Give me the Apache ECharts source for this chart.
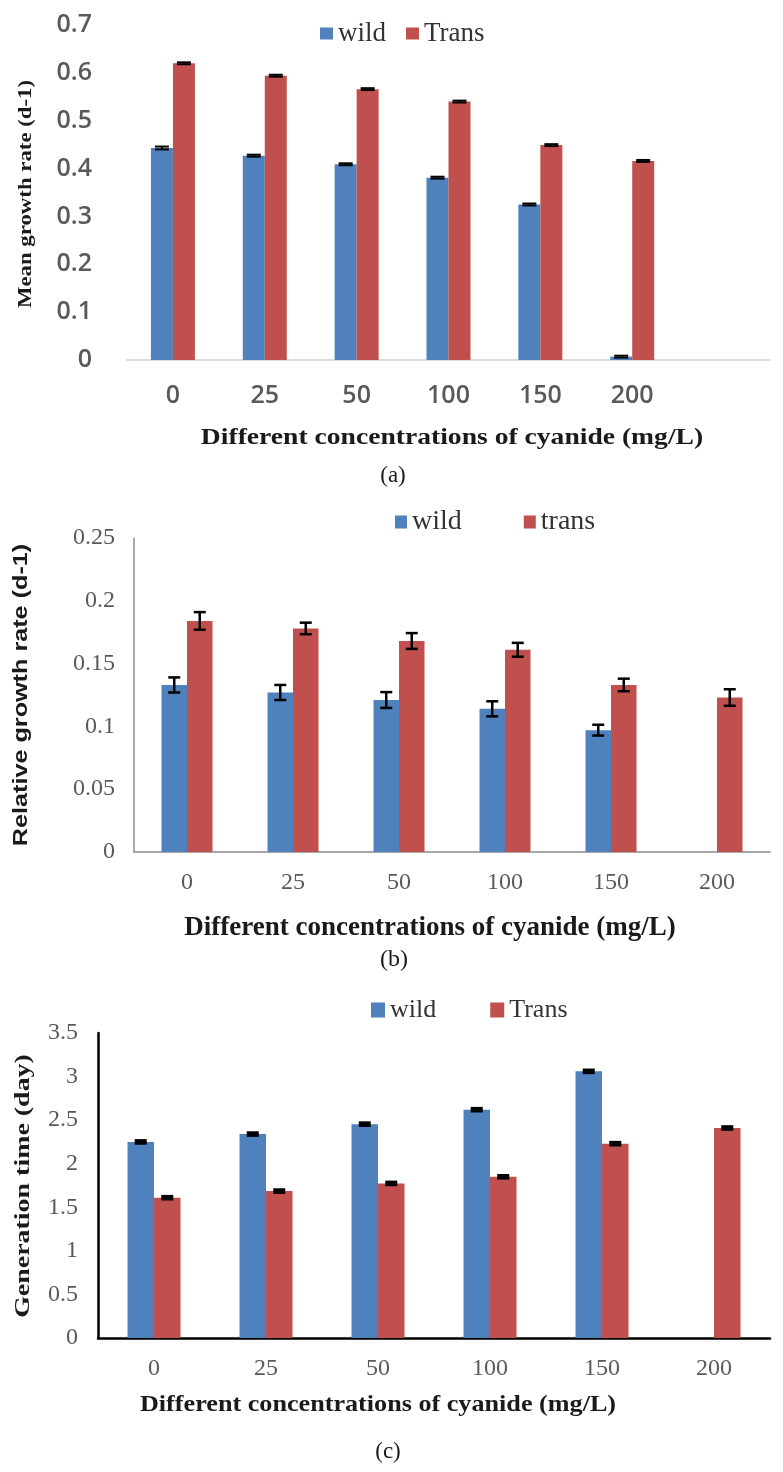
<!DOCTYPE html>
<html>
<head>
<meta charset="utf-8">
<script src="https://cdn.jsdelivr.net/npm/echarts@6/dist/echarts.min.js"></script>
<style>
html,body{margin:0;padding:0;background:#fff;}
#chart{width:783px;height:1472px;}
</style>
</head>
<body>
<div id="chart"></div>
<script>
// ---------- data ----------
const categories = ['0', '25', '50', '100', '150', '200'];
const categoriesA = ['0', '25', '50', '100', '150', '200', ''];

// (a) Mean growth rate (d-1)
const aWild = [0.443, 0.427, 0.409, 0.381, 0.325, 0.007];
const aTrans = [0.620, 0.594, 0.566, 0.540, 0.449, 0.416];
const aWildErr = [0.003, 0.002, 0.002, 0.002, 0.002, 0.002];
const aTransErr = [0.002, 0.002, 0.002, 0.002, 0.002, 0.002];

// (b) Relative growth rate (d-1)
const bWild = [0.133, 0.127, 0.121, 0.114, 0.097, null];
const bTrans = [0.184, 0.178, 0.168, 0.161, 0.133, 0.123];
const bWildErr = [0.006, 0.006, 0.0063, 0.006, 0.0043, null];
const bTransErr = [0.007, 0.0046, 0.0063, 0.0055, 0.005, 0.0066];

// (c) Generation time (day)
const cWild = [2.25, 2.34, 2.454, 2.62, 3.06, null];
const cTrans = [1.61, 1.686, 1.774, 1.85, 2.23, 2.41];
const cWildErr = [0.015, 0.015, 0.015, 0.015, 0.015, null];
const cTransErr = [0.015, 0.015, 0.015, 0.015, 0.015, 0.015];

const yTicksA = {min: 0, max: 0.7, interval: 0.1};
const yTicksB = {min: 0, max: 0.25, interval: 0.05};
const yTicksC = {min: 0, max: 3.5, interval: 0.5};

// ---------- style ----------
const BLUE = '#4F81BD';
const RED = '#C0504D';
const SERIF = "'Liberation Serif', 'Times New Roman', serif";
const SANS_A = "'Open Sans', 'DejaVu Sans', sans-serif";

function errSeries(name, gridIdx, vals, errs, offsetPx, capW, lineW) {
  const data = vals.map((v, i) => (v == null || errs[i] == null) ? null : [i, v - errs[i], v + errs[i]]);
  return {
    type: 'custom',
    name: name,
    xAxisIndex: gridIdx,
    yAxisIndex: gridIdx,
    z: 10,
    silent: true,
    data: data.filter(d => d !== null),
    renderItem: function (params, api) {
      const i = api.value(0);
      const lo = api.coord([i, api.value(1)]);
      const hi = api.coord([i, api.value(2)]);
      const x = lo[0] + offsetPx;
      const st = {stroke: '#000', lineWidth: lineW};
      return {
        type: 'group',
        children: [
          {type: 'line', shape: {x1: x, y1: lo[1], x2: x, y2: hi[1]}, style: st},
          {type: 'line', shape: {x1: x - capW / 2, y1: lo[1], x2: x + capW / 2, y2: lo[1]}, style: st},
          {type: 'line', shape: {x1: x - capW / 2, y1: hi[1], x2: x + capW / 2, y2: hi[1]}, style: st}
        ]
      };
    }
  };
}

const chart = echarts.init(document.getElementById('chart'), null, {renderer: 'canvas'});

const bwA = 22, bwB = 25.5, bwC = 26.5;

function legendText(size) {
  return {fontFamily: SERIF, fontSize: size, lineHeight: size, color: '#333'};
}

const option = {
  animation: false,
  backgroundColor: '#fff',
  legend: [
    {
      data: ['wild', 'Trans'], left: 315, top: 15, itemWidth: 13, itemHeight: 12, itemGap: 20,
      icon: 'rect', textStyle: legendText(27), selectedMode: false
    },
    {
      data: ['wild', 'trans'], left: 390, top: 503, itemWidth: 12, itemHeight: 13, itemGap: 62,
      icon: 'rect', textStyle: legendText(28), selectedMode: false
    },
    {
      data: ['wild', 'Trans'], left: 366, top: 992, itemWidth: 14, itemHeight: 15, itemGap: 54,
      icon: 'rect', textStyle: legendText(26), selectedMode: false
    }
  ],
  grid: [
    {left: 127, top: 25, width: 643, height: 335},
    {left: 134, top: 538, width: 636, height: 314},
    {left: 98, top: 1033, width: 672, height: 305}
  ],
  xAxis: [
    {
      type: 'category', gridIndex: 0, data: categoriesA,
      axisLine: {lineStyle: {color: '#d0d0d0', width: 1.5}}, axisTick: {show: false},
      axisLabel: {fontFamily: SANS_A, fontSize: 25, fontWeight: 600, color: '#595959', margin: 23, interval: 0}
    },
    {
      type: 'category', gridIndex: 1, data: categories,
      axisLine: {lineStyle: {color: '#8c8c8c', width: 1.5}}, axisTick: {show: false},
      axisLabel: {fontFamily: SERIF, fontSize: 24, color: '#595959', margin: 19, interval: 0}
    },
    {
      type: 'category', gridIndex: 2, data: categories,
      axisLine: {lineStyle: {color: '#000', width: 2.5}}, axisTick: {show: false},
      axisLabel: {fontFamily: SERIF, fontSize: 24, color: '#595959', margin: 19, interval: 0}
    }
  ],
  yAxis: [
    {
      type: 'value', gridIndex: 0, min: yTicksA.min, max: yTicksA.max, interval: yTicksA.interval,
      axisLine: {show: false}, axisTick: {show: false}, splitLine: {show: false},
      axisLabel: {fontFamily: SANS_A, fontSize: 25, fontWeight: 600, color: '#595959', margin: 35}
    },
    {
      type: 'value', gridIndex: 1, min: yTicksB.min, max: yTicksB.max, interval: yTicksB.interval,
      axisLine: {show: true, lineStyle: {color: '#8c8c8c', width: 1.5}}, axisTick: {show: false}, splitLine: {show: false},
      axisLabel: {fontFamily: SERIF, fontSize: 24, color: '#595959', margin: 19}
    },
    {
      type: 'value', gridIndex: 2, min: yTicksC.min, max: yTicksC.max, interval: yTicksC.interval,
      axisLine: {show: true, lineStyle: {color: '#000', width: 2.5}}, axisTick: {show: false}, splitLine: {show: false},
      axisLabel: {fontFamily: SERIF, fontSize: 24, color: '#595959', margin: 20}
    }
  ],
  series: [
    {name: 'wild', type: 'bar', xAxisIndex: 0, yAxisIndex: 0, data: aWild, barWidth: bwA, barGap: '0%', itemStyle: {color: BLUE}},
    {name: 'Trans', type: 'bar', xAxisIndex: 0, yAxisIndex: 0, data: aTrans, barWidth: bwA, barGap: '0%', itemStyle: {color: RED}},
    errSeries('wildErrA', 0, aWild, aWildErr, -bwA / 2, 14, 2),
    errSeries('transErrA', 0, aTrans, aTransErr, bwA / 2, 14, 2),

    {name: 'wild', type: 'bar', xAxisIndex: 1, yAxisIndex: 1, data: bWild, barWidth: bwB, barGap: '0%', itemStyle: {color: BLUE}},
    {name: 'trans', type: 'bar', xAxisIndex: 1, yAxisIndex: 1, data: bTrans, barWidth: bwB, barGap: '0%', itemStyle: {color: RED}},
    errSeries('wildErrB', 1, bWild, bWildErr, -bwB / 2, 12, 2.5),
    errSeries('transErrB', 1, bTrans, bTransErr, bwB / 2, 12, 2.5),

    {name: 'wild', type: 'bar', xAxisIndex: 2, yAxisIndex: 2, data: cWild, barWidth: bwC, barGap: '0%', itemStyle: {color: BLUE}},
    {name: 'Trans', type: 'bar', xAxisIndex: 2, yAxisIndex: 2, data: cTrans, barWidth: bwC, barGap: '0%', itemStyle: {color: RED}},
    errSeries('wildErrC', 2, cWild, cWildErr, -bwC / 2, 12, 3),
    errSeries('transErrC', 2, cTrans, cTransErr, bwC / 2, 12, 3)
  ],
  graphic: [
    // panel (a)
    {type: 'text', x: 26, y: 194, rotation: Math.PI / 2, scaleX: 1.2, style: {text: 'Mean growth rate (d-1)', font: "bold 19px 'Liberation Serif'", fill: '#1a1a1a', textAlign: 'center', textVerticalAlign: 'middle'}},
    {type: 'text', x: 452, y: 438, scaleX: 1.2, style: {text: 'Different concentrations of cyanide (mg/L)', font: "bold 23px 'Liberation Serif'", fill: '#1a1a1a', textAlign: 'center', textVerticalAlign: 'middle'}},
    {type: 'text', x: 393, y: 476, style: {text: '(a)', font: "23px 'Liberation Serif'", fill: '#1a1a1a', textAlign: 'center', textVerticalAlign: 'middle'}},
    // panel (b)
    {type: 'text', x: 21, y: 695, rotation: Math.PI / 2, scaleX: 1.2, style: {text: 'Relative growth rate (d-1)', font: "bold 21px 'Liberation Sans'", fill: '#1a1a1a', textAlign: 'center', textVerticalAlign: 'middle'}},
    {type: 'text', x: 430, y: 928, style: {text: 'Different concentrations of cyanide (mg/L)', font: "bold 27px 'Liberation Serif'", fill: '#1a1a1a', textAlign: 'center', textVerticalAlign: 'middle'}},
    {type: 'text', x: 394, y: 960, style: {text: '(b)', font: "24px 'Liberation Serif'", fill: '#1a1a1a', textAlign: 'center', textVerticalAlign: 'middle'}},
    // panel (c)
    {type: 'text', x: 24, y: 1186, rotation: Math.PI / 2, scaleX: 1.33, style: {text: 'Generation time (day)', font: "bold 21px 'Liberation Serif'", fill: '#1a1a1a', textAlign: 'center', textVerticalAlign: 'middle'}},
    {type: 'text', x: 378, y: 1405, scaleX: 1.09, style: {text: 'Different concentrations of cyanide (mg/L)', font: "bold 24px 'Liberation Serif'", fill: '#1a1a1a', textAlign: 'center', textVerticalAlign: 'middle'}},
    {type: 'text', x: 388, y: 1452, style: {text: '(c)', font: "23px 'Liberation Serif'", fill: '#1a1a1a', textAlign: 'center', textVerticalAlign: 'middle'}}
  ]
};

chart.setOption(option);
</script>
</body>
</html>
